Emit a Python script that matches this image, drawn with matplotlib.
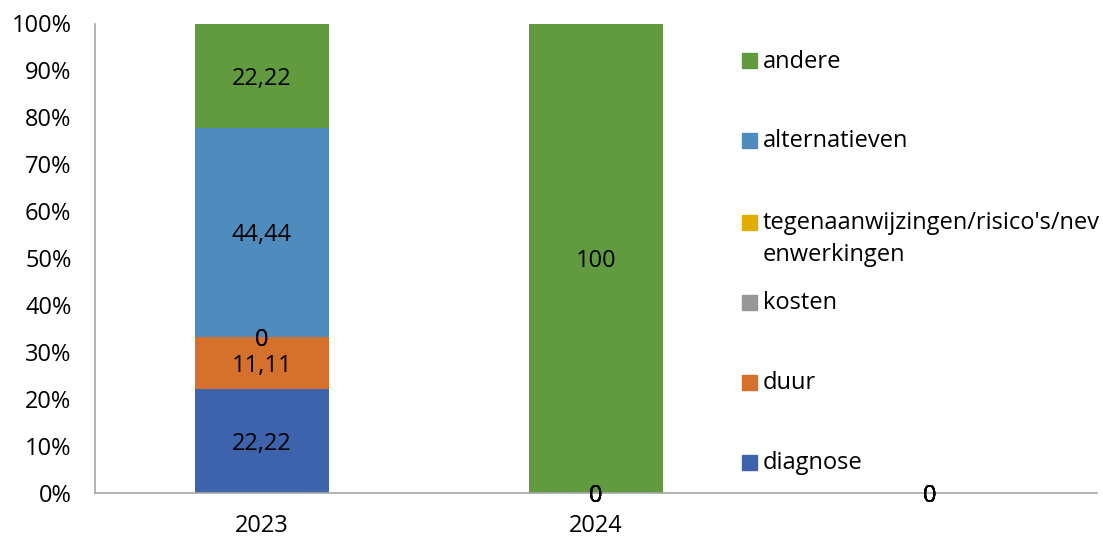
import numpy as np
import matplotlib.pyplot as plt
from matplotlib.patches import Rectangle

plt.rcParams['font.family'] = ['Open Sans', 'DejaVu Sans']

categories = ["2023", "2024", ""]
series_names = ["diagnose", "duur", "kosten",
                "tegenaanwijzingen/risico's/nev\nenwerkingen",
                "alternatieven", "andere"]
diagnose = [22.22, 0, 0]
duur = [11.11, 0, 0]
kosten = [0, 0, 0]
tegen = [0, 0, 0]
alternatieven = [44.44, 0, 0]
andere = [22.22, 100, 0]
colors = ["#3C63AC", "#D5702D", "#979797", "#E3AC00", "#508BBE", "#629B3F"]

values = np.array([diagnose, duur, kosten, tegen, alternatieven, andere], dtype=float)
totals = values.sum(axis=0)
shares = np.divide(values, totals, out=np.zeros_like(values), where=totals > 0)

W, H = 1103, 537
fig = plt.figure(figsize=(W / 100, H / 100), dpi=100)
ax = fig.add_axes([95 / W, 1 - 493 / H, (1097 - 95) / W, (493 - 23.5) / H])

x = np.arange(len(categories))
bottom = np.zeros(len(categories))
for name, row, share, col in zip(series_names, values, shares, colors):
    ax.bar(x, share, 0.4, bottom=bottom, color=col, label=name)
    for xi, b, s, v in zip(x, bottom, share, row):
        ax.text(xi, b + s / 2, "{:g}".format(v).replace(".", ","),
                ha="center", va="center_baseline", fontsize=17, color="black")
    bottom += share

ax.set_xlim(-0.5, len(categories) - 0.5)
ax.set_ylim(0, 1)
ax.set_yticks(np.arange(0, 1.01, 0.1))
ax.set_yticklabels(["{:.0f}%".format(v * 100) for v in np.arange(0, 1.01, 0.1)])
ax.set_xticks(x)
ax.set_xticklabels(categories)
ax.tick_params(axis="y", length=0, pad=17, labelsize=17)
ax.tick_params(axis="x", length=0, pad=15, labelsize=17)
for s in ["top", "right"]:
    ax.spines[s].set_visible(False)
for s in ["left", "bottom"]:
    ax.spines[s].set_color("#A6A6A6")
    ax.spines[s].set_linewidth(1.2)

# legend drawn by hand, entries from top (andere) to bottom (diagnose)
legend_y = [60.5, 140, 222, 302, 382, 462]
line_h = 32
for name, col, ly in zip(series_names[::-1], colors[::-1], legend_y):
    fig.patches.append(Rectangle((742 / W, 1 - (ly + 7.5) / H), 15 / W, 15 / H,
                                 transform=fig.transFigure, color=col))
    for k, part in enumerate(name.split("\n")):
        fig.text(763 / W, 1 - (ly + 7 + k * line_h) / H, part, ha="left",
                 va="baseline", fontsize=17)

fig.savefig("out.png", dpi=100)
